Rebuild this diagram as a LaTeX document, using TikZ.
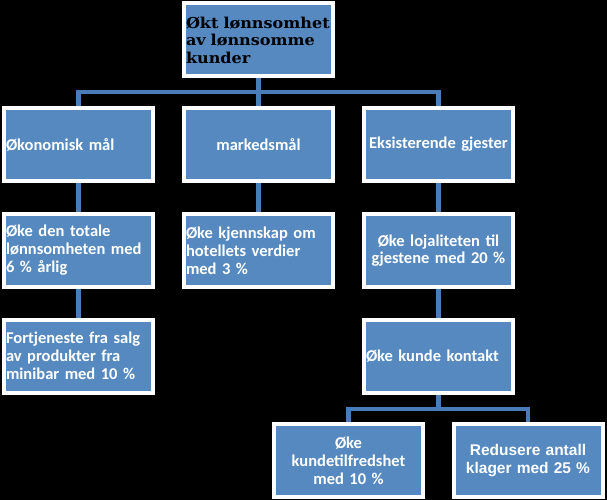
\documentclass[tikz,border=0pt]{standalone}
\usepackage{fontspec}
\setmainfont{Carlito}
\newfontfamily\topfont[FakeStretch=1.07]{DejaVu Serif}
\newfontfamily\arialfont{Liberation Sans}
\pgfdeclarelayer{bg}
\pgfdeclarelayer{connlayer}
\pgfsetlayers{bg,connlayer,main}
\definecolor{boxblue}{RGB}{85,137,192}
\definecolor{lineblue}{RGB}{74,124,184}
\begin{document}
\begin{tikzpicture}[x=1pt,y=-1pt,
  box/.style={rectangle,draw=white,line width=4pt,fill=boxblue,inner sep=0pt,outer sep=0pt,
    minimum width=149pt,minimum height=73pt,text=white,font=\bfseries\fontsize{16.5}{18}\selectfont},
  boxl/.style={box,text width=145pt,align=left},
  boxc/.style={box,text width=145pt,align=center},
  conn/.style={draw=lineblue,line width=4.5pt,line join=miter}]
\begin{pgfonlayer}{bg}
\fill[black] (0,0) rectangle (607,500);
\end{pgfonlayer}
\useasboundingbox (0,0) rectangle (607,500);
% top
\node[boxl,font=\topfont\bfseries\fontsize{15}{17.5}\selectfont,text=black] (top) at (258.5,40)
  {\mbox{Økt lønnsomhet}\\\mbox{av lønnsomme}\\\mbox{kunder}};
% level 1
\node[boxl] (oko) at (78.5,144.5) {Økonomisk mål};
\node[boxc] (mark) at (258.5,144.5) {markedsmål};
\node[boxc] (eks) at (438.5,144.5) {Eksisterende gjester};
% level 2
\node[boxl] (tot) at (78.5,250.5) {Øke den totale\\lønnsomheten med\\6 \% årlig};
\node[boxl] (kjenn) at (258.5,250.5) {Øke kjennskap om\\hotellets verdier\\med 3 \%};
\node[boxc,font=\bfseries\fontsize{16.5}{17.5}\selectfont] (loj) at (438.5,250.5) {Øke lojaliteten til\\gjestene med 20 \%};
% level 3
\node[boxl] (fort) at (78.5,356) {Fortjeneste fra salg\\av produkter fra\\minibar med 10 \%};
\node[boxl] (kont) at (438.5,356) {Øke kunde kontakt};
% level 4
\node[boxc] (tilf) at (348.5,460.5) {Øke\\kundetilfredshet\\med 10 \%};
\node[boxc,font=\arialfont\bfseries\fontsize{15.5}{17.3}\selectfont] (red) at (528,460.5) {Redusere antall\\klager med 25 \%};
% connectors
\coordinate (bar1) at (258.5,92);
\coordinate (bar2) at (438.5,409);
\begin{pgfonlayer}{connlayer}
\draw[conn] (top.south) -- (bar1);
\draw[conn] (oko.north) |- (bar1) -| (eks.north);
\draw[conn] (bar1) -- (mark.north);
\draw[conn] (oko.south) -- (tot.north);
\draw[conn] (tot.south) -- (fort.north);
\draw[conn] (mark.south) -- (kjenn.north);
\draw[conn] (eks.south) -- (loj.north);
\draw[conn] (loj.south) -- (kont.north);
\draw[conn] (kont.south) -- (bar2);
\draw[conn] (tilf.north) |- (bar2) -| (red.north);
\end{pgfonlayer}
\end{tikzpicture}
\end{document}
